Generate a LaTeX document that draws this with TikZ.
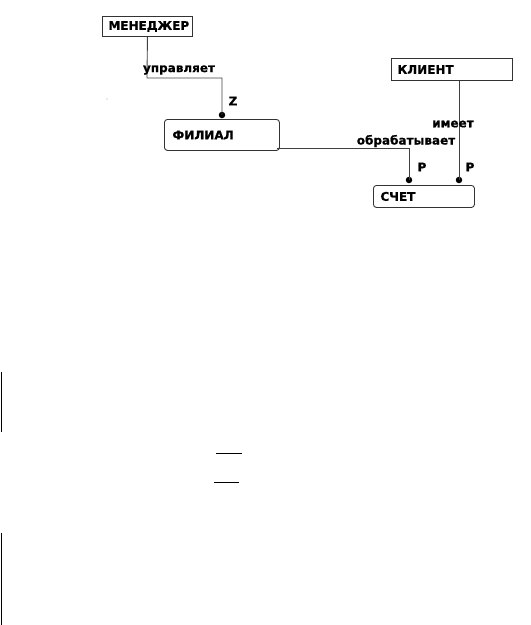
\documentclass[tikz,border=0pt]{standalone}
\usepackage{fontspec}
\setmainfont{DejaVu Sans}
\newfontfamily\heavyfont{DejaVu Sans}[BoldFeatures={FakeBold=0.8}]
\usetikzlibrary{calc}
\begin{document}
\begin{tikzpicture}[x=1pt,y=-1pt,
  ent/.style={draw=black!80, line width=0.9pt, anchor=north west, inner xsep=6pt, inner ysep=0pt,
    font=\heavyfont\fontsize{12}{12}\selectfont\bfseries, align=left},
  rent/.style={ent, rounded corners=3pt},
  conn/.style={draw=black!75, line width=0.9pt},
  lbl/.style={font=\heavyfont\fontsize{12}{12}\selectfont\bfseries, inner sep=0pt},
  dotm/.style={circle, fill=black, inner sep=0pt, minimum size=6.5pt},
  rule/.style={draw=black, line width=1pt}]
\useasboundingbox (0,0) rectangle (531,625);
% entities
\node[ent, text width=78pt, minimum height=20pt] (men) at (102,16) {МЕНЕДЖЕР};
\node[rent, text width=99pt, minimum height=31pt, inner xsep=8pt] (fil) at (164,119) {ФИЛИАЛ\\[3pt]};
\node[ent, text width=109pt, minimum height=22pt] (kli) at (391,58) {КЛИЕНТ};
\node[rent, text width=87pt, minimum height=22pt, inner xsep=7pt] (sch) at (373,185) {СЧЕТ};
% dots
\node[dotm] (d1) at (222,115) {};
\node[dotm] (d2) at (409,180) {};
\node[dotm] (d3) at (459,180) {};
% connectors
\coordinate (c1) at (147,78);
\draw[conn] (men.south) -- (c1) -| (d1.center);
\coordinate (c2) at (277,148);
\coordinate (c3) at (409,148);
\draw[conn] (c2) -- (c3) -- (d2.center);
\draw[conn] (kli.south -| d3) -- (d3.center);
% labels
\node[lbl] (l1) at (179,70) {управляет};
\node[lbl] (l2) at (233,101) {Z};
\node[lbl] (l3) at (453,124) {имеет};
\node[lbl] (l4) at (406,141) {обрабатывает};
\node[lbl] (l5) at (422,167) {P};
\node[lbl] (l6) at (470,167) {P};
% speck
\fill[black!35] (107,99) circle (0.7pt);
% stray rules
\draw[rule] (1,372) -- (1,432);
\draw[rule] (216,453) -- (242,453);
\draw[rule] (214,482) -- (239,482);
\draw[rule] (1,533) -- (1,625);
\end{tikzpicture}
\end{document}
